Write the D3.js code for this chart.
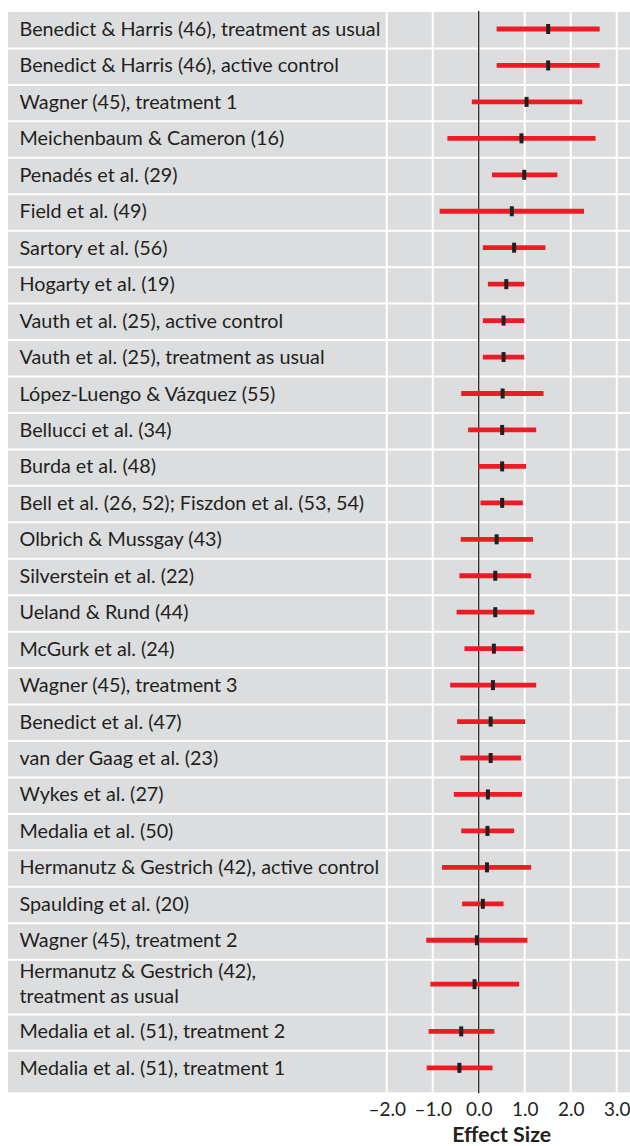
<!DOCTYPE html>
<html>
<head>
<meta charset="utf-8">
<script src="https://cdn.jsdelivr.net/npm/d3@7"></script>
<style>
  body { margin: 0; background: #fff; }
  svg text { font-family: Lato, "Open Sans", sans-serif; fill: #231f20; }
</style>
</head>
<body>
<svg id="chart" width="630" height="1146"></svg>
<script>
// studies, top to bottom
const studies = [
  'Benedict & Harris (46), treatment as usual',
  'Benedict & Harris (46), active control',
  'Wagner (45), treatment 1',
  'Meichenbaum & Cameron (16)',
  'Penadés et al. (29)',
  'Field et al. (49)',
  'Sartory et al. (56)',
  'Hogarty et al. (19)',
  'Vauth et al. (25), active control',
  'Vauth et al. (25), treatment as usual',
  'López-Luengo & Vázquez (55)',
  'Bellucci et al. (34)',
  'Burda et al. (48)',
  'Bell et al. (26, 52); Fiszdon et al. (53, 54)',
  'Olbrich & Mussgay (43)',
  'Silverstein et al. (22)',
  'Ueland & Rund (44)',
  'McGurk et al. (24)',
  'Wagner (45), treatment 3',
  'Benedict et al. (47)',
  'van der Gaag et al. (23)',
  'Wykes et al. (27)',
  'Medalia et al. (50)',
  'Hermanutz & Gestrich (42), active control',
  'Spaulding et al. (20)',
  'Wagner (45), treatment 2',
  'Hermanutz & Gestrich (42),\ntreatment as usual',
  'Medalia et al. (51), treatment 2',
  'Medalia et al. (51), treatment 1'
]
// effect size and its interval
const effect = [1.51, 1.51, 1.04, 0.93, 0.99, 0.72, 0.77, 0.60, 0.54, 0.54,
  0.52, 0.51, 0.51, 0.51, 0.39, 0.36, 0.36, 0.33, 0.31, 0.26,
  0.26, 0.20, 0.19, 0.18, 0.09, -0.04, -0.09, -0.38, -0.42]
const lower = [0.39, 0.39, -0.15, -0.68, 0.29, -0.85, 0.09, 0.20, 0.09, 0.09,
  -0.38, -0.23, -0.01, 0.04, -0.39, -0.42, -0.48, -0.31, -0.62, -0.47,
  -0.40, -0.54, -0.38, -0.80, -0.36, -1.14, -1.05, -1.09, -1.13]
const upper = [2.63, 2.63, 2.25, 2.54, 1.71, 2.29, 1.45, 0.99, 0.99, 0.99,
  1.41, 1.25, 1.03, 0.96, 1.18, 1.14, 1.21, 0.97, 1.25, 1.01,
  0.92, 0.94, 0.77, 1.14, 0.54, 1.06, 0.88, 0.34, 0.30]
const tickValues = [-2, -1, 0, 1, 2, 3]
const axisTitle = 'Effect Size'

const rows = studies.map((s, i) => ({
  lines: s.split('\n'), est: effect[i], lo: lower[i], hi: upper[i]
}))

const panel = { left: 8, top: 12, right: 630, bottom: 1092.3 }
const rowH = 36.45

// each row takes 1 unit, the two-line row 1.5
let acc = 0
rows.forEach(r => { r.units = r.lines.length > 1 ? 1.5 : 1; r.start = acc; acc += r.units })

const x = d3.scaleLinear().domain([-2, 3]).range([386.7, 616.7])
const y = d3.scaleLinear().domain([0, acc]).range([panel.top, panel.top + acc * rowH])
const mid = r => y(r.start) + (r.lines.length > 1 ? 24.5 : 17)

const svg = d3.select('#chart')

svg.append('rect')
  .attr('x', panel.left).attr('y', panel.top)
  .attr('width', panel.right - panel.left).attr('height', panel.bottom - panel.top)
  .attr('fill', '#dcdddf')

// vertical grid
svg.append('g')
  .selectAll('line')
  .data(tickValues)
  .join('line')
  .attr('x1', d => x(d)).attr('x2', d => x(d))
  .attr('y1', panel.top).attr('y2', panel.bottom)
  .attr('stroke', '#fff').attr('stroke-width', 2)

// row separators
svg.append('g')
  .selectAll('line')
  .data(rows.slice(1))
  .join('line')
  .attr('x1', panel.left).attr('x2', panel.right)
  .attr('y1', d => y(d.start)).attr('y2', d => y(d.start))
  .attr('stroke', '#fff').attr('stroke-width', 2)

// labels
const labels = svg.append('g')
labels.selectAll('text')
  .data(rows)
  .join('text')
  .attr('x', 19.5)
  .attr('font-size', 18)
  .each(function (d) {
    const t = d3.select(this)
    if (d.lines.length === 1) {
      t.attr('y', mid(d) + 7).text(d.lines[0])
    } else {
      d.lines.forEach((ln, k) => {
        t.append('tspan').attr('x', 19.5).attr('y', y(d.start) + 18 + k * 25).text(ln)
      })
    }
  })

// fit the label size to the width of the first label in the picture
const w0 = labels.select('text').node().getComputedTextLength()
const fs = 18 * 361 / w0
labels.selectAll('text').attr('font-size', fs)

// zero line
svg.append('line')
  .attr('x1', x(0)).attr('x2', x(0))
  .attr('y1', panel.top - 1).attr('y2', panel.bottom + 1)
  .attr('stroke', '#231f20').attr('stroke-width', 1.3)

// intervals
svg.append('g')
  .selectAll('line')
  .data(rows)
  .join('line')
  .attr('x1', d => x(d.lo)).attr('x2', d => x(d.hi))
  .attr('y1', mid).attr('y2', mid)
  .attr('stroke', '#ed1c24').attr('stroke-width', 4.8)

// point estimates
svg.append('g')
  .selectAll('rect')
  .data(rows)
  .join('rect')
  .attr('x', d => x(d.est) - 2).attr('y', d => mid(d) - 5)
  .attr('width', 4).attr('height', 10)
  .attr('fill', '#231f20')

// axis
const axis = svg.append('g')
  .attr('transform', `translate(0,${panel.bottom})`)
  .call(d3.axisBottom(x).tickValues(tickValues).tickSize(0).tickPadding(0)
    .tickFormat(d => d3.format('.1f')(d).replace('−', '–').replace('-', '–')))
axis.select('.domain').remove()
axis.selectAll('text')
  .attr('dy', 0).attr('y', 23.5)
  .attr('font-size', fs * 0.96)
  .attr('font-family', 'Lato, sans-serif')
  .attr('fill', '#231f20')

svg.append('text')
  .attr('x', (x(-2) + x(3)) / 2)
  .attr('y', 1142)
  .attr('text-anchor', 'middle')
  .attr('font-size', fs * 1.08)
  .attr('font-weight', 'bold')
  .text(axisTitle)
</script>
</body>
</html>
